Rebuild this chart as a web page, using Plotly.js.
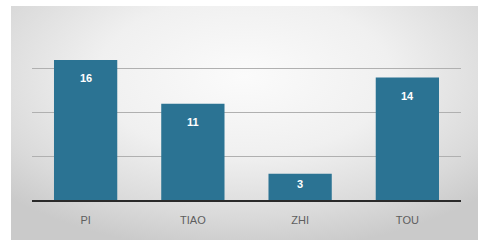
<!DOCTYPE html>
<html>
<head>
<meta charset="utf-8">
<script src="https://cdn.plot.ly/plotly-3.0.1.min.js"></script>
<style>
  html, body { margin: 0; padding: 0; background: #ffffff; width: 478px; height: 240px; overflow: hidden; }
  #panel {
    position: absolute; left: 11px; top: 6px; width: 467px; height: 234px;
    background: radial-gradient(ellipse 70% 75% at 50% 30%, #fbfbfb 0%, #f0f0f0 45%, #dadada 80%, #cacaca 100%);
  }
  #chart { width: 467px; height: 234px; }
</style>
</head>
<body>
<div id="panel"><div id="chart"></div></div>
<script>
const categories = ["PI", "TIAO", "ZHI", "TOU"];
const values = [16, 11, 3, 14];
const gridValues = [5, 10, 15];

const barColor = "#2b7393";
const plotHeightPx = 175, yMax = 20;

const trace = {
  type: "bar",
  x: categories,
  y: values,
  marker: { color: barColor, line: { width: 0 } },
  hoverinfo: "none"
};

const annotations = categories.map((c, i) => {
  const hPx = values[i] * plotHeightPx / yMax;
  return {
    x: c, y: values[i], xref: "x", yref: "y",
    text: String(values[i]),
    showarrow: false, yanchor: "middle", yshift: -Math.min(18, hPx * 0.4),
    font: { family: "Liberation Sans, Arial, sans-serif", size: 11, color: "#ffffff", weight: "bold" }
  };
});

const layout = {
  width: 467, height: 234,
  margin: { l: 21, r: 17, t: 19, b: 40 },
  paper_bgcolor: "rgba(0,0,0,0)",
  plot_bgcolor: "rgba(0,0,0,0)",
  bargap: 0.41,
  showlegend: false,
  xaxis: {
    showline: true, linecolor: "#2a2a2a", linewidth: 2,
    showgrid: false, ticks: "",
    tickfont: { family: "Liberation Sans, Arial, sans-serif", size: 11, color: "#5e5e5e" },
    ticklabelstandoff: 9
  },
  yaxis: {
    range: [0, yMax], tickvals: gridValues,
    showticklabels: false, showgrid: true, gridcolor: "#b0b0b0", gridwidth: 1,
    zeroline: false, showline: false, ticks: ""
  },
  annotations: annotations
};

Plotly.newPlot("chart", [trace], layout, { staticPlot: true, displayModeBar: false });
</script>
</body>
</html>
